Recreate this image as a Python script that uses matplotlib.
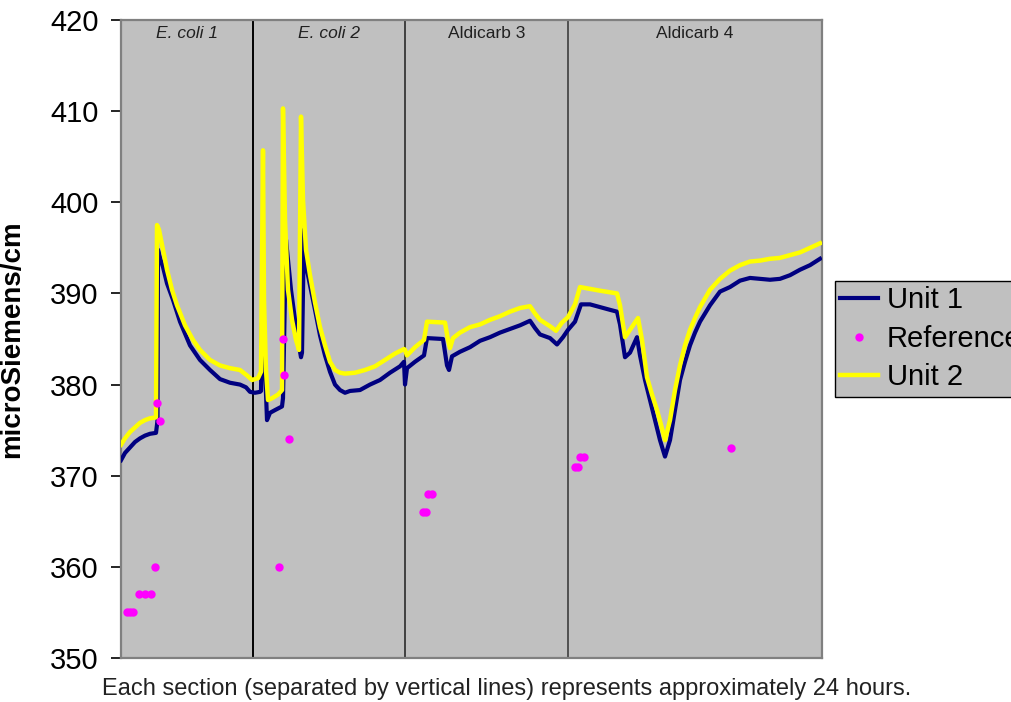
import matplotlib
matplotlib.use("Agg")
import matplotlib.pyplot as plt
from matplotlib.lines import Line2D

plt.rcParams['font.family'] = ['Liberation Sans', 'DejaVu Sans']

# (time index, microSiemens/cm) -- time in arbitrary units, each section ~24 h
unit1_points = [
    (0, 371.7), (4, 372.5), (9, 373.1), (14, 373.7), (19, 374.1), (24, 374.4), (29, 374.6), (35, 374.7),
    (36, 375.6), (36.5, 376.1), (37, 394.8), (39, 393.9), (42, 392.9), (46, 391.1), (52, 389.3), (59, 386.9),
    (69, 384.3), (79, 382.7), (89, 381.6), (99, 380.6), (109, 380.2), (119, 380.0), (125, 379.7), (129, 379.2),
    (134, 379.1), (139, 379.2), (140, 379.3), (141, 386.8), (143, 383.6), (145, 379.0), (146, 376.1),
    (149, 376.9), (154, 377.2), (161, 377.6), (162, 378.5), (165, 395.9), (167, 393.7), (170, 390.4),
    (174, 387.1), (177, 384.9), (180, 383.0), (181, 383.5), (183, 397.0), (185, 393.1), (189, 390.9),
    (194, 388.2), (199, 385.4), (204, 383.2), (209, 381.4), (214, 380.0), (219, 379.4), (224, 379.1),
    (229, 379.3), (239, 379.4), (249, 380.0), (259, 380.5), (269, 381.3), (279, 382.0), (283, 382.5),
    (284, 380.0), (286, 381.8), (294, 382.5), (303, 383.2), (306, 385.1), (322, 385.0), (326, 382.1),
    (328, 381.6), (331, 383.1), (339, 383.6), (349, 384.1), (359, 384.8), (369, 385.2), (379, 385.7),
    (389, 386.1), (399, 386.5), (409, 387.0), (414, 386.2), (419, 385.5), (429, 385.1), (436, 384.4),
    (442, 385.2), (447, 386.0), (454, 386.9), (460, 388.8), (469, 388.8), (479, 388.5), (489, 388.2),
    (496, 388.0), (499, 386.6), (504, 383.0), (509, 383.5), (516, 385.2), (519, 383.2), (524, 380.5),
    (529, 378.3), (534, 376.1), (539, 373.9), (544, 372.1), (549, 373.9), (554, 377.2), (559, 380.5),
    (564, 382.5), (569, 384.3), (574, 385.7), (579, 386.9), (589, 388.7), (599, 390.2), (609, 390.7),
    (619, 391.4), (629, 391.7), (639, 391.6), (649, 391.5), (659, 391.6), (669, 392.0), (679, 392.6),
    (689, 393.1), (699, 393.8),
]

unit2_points = [
    (0, 373.4), (4, 374.1), (9, 374.8), (14, 375.3), (19, 375.8), (24, 376.1), (29, 376.3), (35, 376.4),
    (36, 397.5), (38, 397.0), (42, 394.8), (46, 392.6), (51, 390.4), (56, 388.7), (64, 386.5), (72, 384.9),
    (79, 383.8), (89, 382.7), (99, 382.1), (109, 381.8), (119, 381.6), (126, 381.0), (131, 380.5),
    (137, 380.7), (140, 381.4), (142, 405.7), (143, 389.3), (145, 381.6), (147, 378.3), (151, 378.5),
    (157, 378.9), (161, 379.4), (162, 410.3), (164, 398.1), (167, 390.4), (171, 387.1), (175, 384.9),
    (178, 383.8), (180, 409.4), (182, 400.3), (185, 394.8), (189, 392.0), (194, 389.0), (199, 386.3),
    (204, 384.3), (209, 382.5), (214, 381.6), (219, 381.3), (224, 381.2), (234, 381.3), (244, 381.6),
    (254, 382.0), (264, 382.7), (274, 383.4), (283, 383.9), (284, 383.8), (286, 383.2), (294, 384.1),
    (303, 384.9), (306, 386.9), (324, 386.8), (327, 384.9), (329, 384.0), (332, 385.1), (339, 385.7),
    (349, 386.3), (359, 386.6), (369, 387.1), (379, 387.5), (389, 388.0), (399, 388.4), (409, 388.6),
    (414, 387.8), (419, 387.1), (429, 386.4), (435, 385.9), (441, 386.8), (447, 387.4), (454, 388.8),
    (459, 390.7), (469, 390.5), (479, 390.3), (496, 390.0), (499, 388.7), (504, 385.2), (509, 386.0),
    (517, 387.3), (521, 384.9), (526, 380.8), (531, 378.9), (536, 377.2), (540, 375.6), (544, 373.9),
    (549, 376.1), (554, 379.4), (559, 382.1), (564, 384.3), (569, 386.0), (574, 387.3), (579, 388.5),
    (589, 390.4), (599, 391.6), (609, 392.5), (619, 393.1), (629, 393.5), (639, 393.6), (649, 393.8),
    (659, 393.9), (669, 394.2), (679, 394.5), (689, 395.0), (699, 395.5),
]

ref_x = [6, 9, 12, 18, 24, 30, 34, 36, 39, 158, 162, 163, 168, 302, 305, 307, 311, 454, 457, 459, 463, 610]
ref_y = [355, 355, 355, 357, 357, 357, 360, 378, 376, 360, 385, 381, 374, 366, 366, 368, 368, 371, 371, 372, 372, 373]

section_edges = [132, 284, 447]
section_labels = ["E. coli 1", "E. coli 2", "Aldicarb 3", "Aldicarb 4"]
section_italic = [True, True, False, False]
x_max = 701
y_ticks = [350, 360, 370, 380, 390, 400, 410, 420]

unit1_x, unit1_y = zip(*unit1_points)
unit2_x, unit2_y = zip(*unit2_points)

fig = plt.figure(figsize=(10.11, 7.02), dpi=100)
ax = fig.add_axes([121/1011, 44/702, 701/1011, 638/702])
ax.set_facecolor('#C0C0C0')

ax.plot(unit1_x, unit1_y, color='#000080', lw=3.0, zorder=3)
ax.plot(unit2_x, unit2_y, color='#FFFF00', lw=3.2, zorder=4)
ax.plot(ref_x, ref_y, ls='none', marker='o', ms=5.0, color='#FF00FF', zorder=5)

for e, c in zip(section_edges, ['#000000', '#404040', '#505050']):
    ax.axvline(e, color=c, lw=1.4, zorder=2)

bounds = [0] + section_edges + [x_max]
for i, lab in enumerate(section_labels):
    cx = (bounds[i] + bounds[i + 1]) / 2
    ax.text(cx, 418.5, lab, ha='center', va='center', fontsize=12.5, color='#202020',
            style='italic' if section_italic[i] else 'normal')

ax.set_xlim(0, x_max)
ax.set_ylim(350, 420)
ax.set_yticks(y_ticks)
ax.set_yticklabels([str(t) for t in y_ticks], fontsize=21)
ax.tick_params(axis='y', length=7, width=1.2, pad=9, color='black')
ax.set_xticks([])
for s in ax.spines.values():
    s.set_color('#808080')
    s.set_linewidth(1.6)
ax.set_ylabel('microSiemens/cm', fontsize=20, fontweight='bold')
ax.yaxis.set_label_coords(-96/701, 0.5)

fig.text(507/1011, 1 - 689/702, 'Each section (separated by vertical lines) represents approximately 24 hours.',
         ha='center', va='center', fontsize=17, color='#222222')

handles = [Line2D([], [], color='#000080', lw=3.0),
           Line2D([], [], ls='none', marker='o', ms=5.0, color='#FF00FF'),
           Line2D([], [], color='#FFFF00', lw=3.2)]
leg = fig.legend(handles, ['Unit 1', 'Reference', 'Unit 2'], loc='upper left',
                 bbox_to_anchor=(835/1011, 1 - 281/702), fontsize=21, frameon=True,
                 fancybox=False, framealpha=1, facecolor='#C0C0C0', edgecolor='black',
                 handlelength=1.3, handletextpad=0.3, labelspacing=0.36, borderpad=0.18,
                 borderaxespad=0)
leg.get_frame().set_linewidth(1.0)

fig.savefig('out.png', dpi=100)
